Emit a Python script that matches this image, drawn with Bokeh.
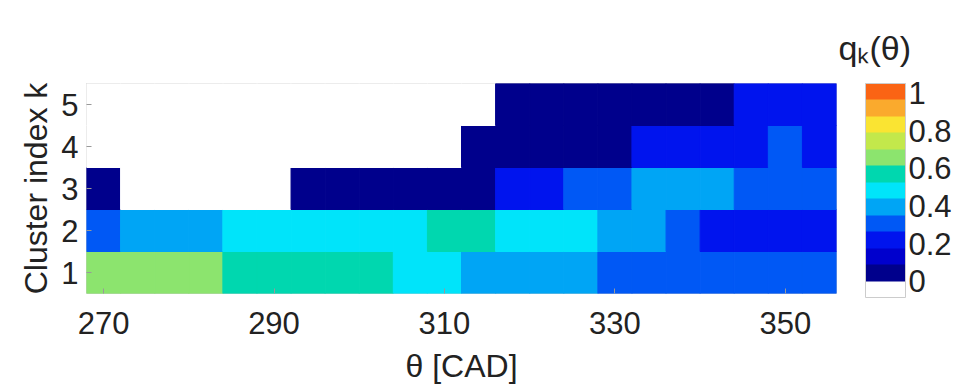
from bokeh.plotting import figure
from bokeh.models import (LinearColorMapper, ColorBar, FixedTicker, PrintfTickFormatter,
                          ColumnDataSource, Range1d)
from bokeh.transform import transform
from bokeh.embed import file_html
from bokeh.resources import INLINE

# crank angle bin centres [CAD], bins 4 CAD wide
theta = [270, 274, 278, 282, 286, 290, 294, 298, 302, 306, 310,
         314, 318, 322, 326, 330, 334, 338, 342, 346, 350, 354]
clusters = [1, 2, 3, 4, 5]

q1 = [0.66, 0.66, 0.66, 0.66, 0.56, 0.56, 0.55, 0.55, 0.55, 0.48, 0.47,
      0.39, 0.39, 0.38, 0.38, 0.31, 0.31, 0.30, 0.30, 0.30, 0.30, 0.30]
q2 = [0.30, 0.36, 0.36, 0.36, 0.45, 0.45, 0.44, 0.44, 0.45, 0.47, 0.55,
      0.55, 0.47, 0.47, 0.46, 0.40, 0.40, 0.30, 0.21, 0.21, 0.21, 0.21]
q3 = [0.05, 0.00, 0.00, 0.00, 0.00, 0.00, 0.04, 0.04, 0.04, 0.04, 0.03,
      0.05, 0.20, 0.20, 0.29, 0.29, 0.39, 0.38, 0.38, 0.30, 0.30, 0.30]
q4 = [0.00, 0.00, 0.00, 0.00, 0.00, 0.00, 0.00, 0.00, 0.00, 0.00, 0.00,
      0.04, 0.05, 0.05, 0.05, 0.06, 0.20, 0.21, 0.21, 0.21, 0.30, 0.22]
q5 = [0.00, 0.00, 0.00, 0.00, 0.00, 0.00, 0.00, 0.00, 0.00, 0.00, 0.00,
      0.00, 0.06, 0.06, 0.06, 0.06, 0.07, 0.07, 0.07, 0.20, 0.20, 0.20]

cbar_ticks = [0, 0.2, 0.4, 0.6, 0.8, 1]

palette = ["#ffffff", "#00008c", "#0000cd", "#0014ee", "#0058f5", "#00a5f5",
           "#00e4fa", "#00d7af", "#8ce46e", "#c3e84b", "#fae432", "#faaa2d",
           "#fa6414"]

rows = [q1, q2, q3, q4, q5]
xs, ys, vs = [], [], []
for k, row in zip(clusters, rows):
    for t, v in zip(theta, row):
        xs.append(t)
        ys.append(k)
        vs.append(v)
src = ColumnDataSource(dict(x=xs, y=ys, q=vs))

mapper = LinearColorMapper(palette=palette, low=-0.085, high=1.05)

FONT = "Liberation Sans"
TXT = "#222222"

p = figure(width=961, height=388, x_range=Range1d(268, 356), y_range=Range1d(0.5, 5.5),
           output_backend="svg", toolbar_location=None, title="q\u2096(θ)",
           min_border_left=86, min_border_right=125, min_border_top=83, min_border_bottom=95)

p.title.align = "left"
p.title.offset = 752
p.title.standoff = 34
p.title.text_font = FONT
p.title.text_font_size = "34px"
p.title.text_font_style = "normal"
p.title.text_color = TXT

p.rect(x="x", y="y", width=4, height=1, source=src,
       fill_color=transform("q", mapper), line_color=transform("q", mapper), line_width=1)

p.grid.visible = False
p.outline_line_color = "#cccccc"
p.background_fill_color = "white"

p.xaxis.ticker = FixedTicker(ticks=[270, 290, 310, 330, 350])
p.yaxis.ticker = FixedTicker(ticks=clusters)
for ax in (p.xaxis[0], p.yaxis[0]):
    ax.axis_line_color = None
    ax.major_tick_in = 5
    ax.major_tick_out = 0
    ax.major_tick_line_color = "#999999"
    ax.minor_tick_line_color = None
    ax.major_label_text_font = FONT
    ax.major_label_text_font_size = "31px"
    ax.major_label_text_color = TXT
    ax.axis_label_text_font = FONT
    ax.axis_label_text_font_size = "32px"
    ax.axis_label_text_font_style = "normal"
    ax.axis_label_text_color = TXT

p.xaxis.axis_label = "θ [CAD]"
p.xaxis.major_label_standoff = 18
p.xaxis.axis_label_standoff = 11
p.yaxis.axis_label = "Cluster index k"
p.yaxis.major_label_standoff = 8
p.yaxis.axis_label_standoff = 4

cb = ColorBar(color_mapper=mapper, ticker=FixedTicker(ticks=cbar_ticks),
              formatter=PrintfTickFormatter(format="%g"),
              location=(779, -4), width=40, height=214, padding=0,
              bar_line_color="#cccccc", major_tick_line_color=None,
              label_standoff=3, major_label_text_font=FONT,
              major_label_text_font_size="31px", major_label_text_color=TXT,
              background_fill_color=None, border_line_color=None)
p.add_layout(cb, "center")

open("out.html", "w").write(file_html(p, INLINE))
